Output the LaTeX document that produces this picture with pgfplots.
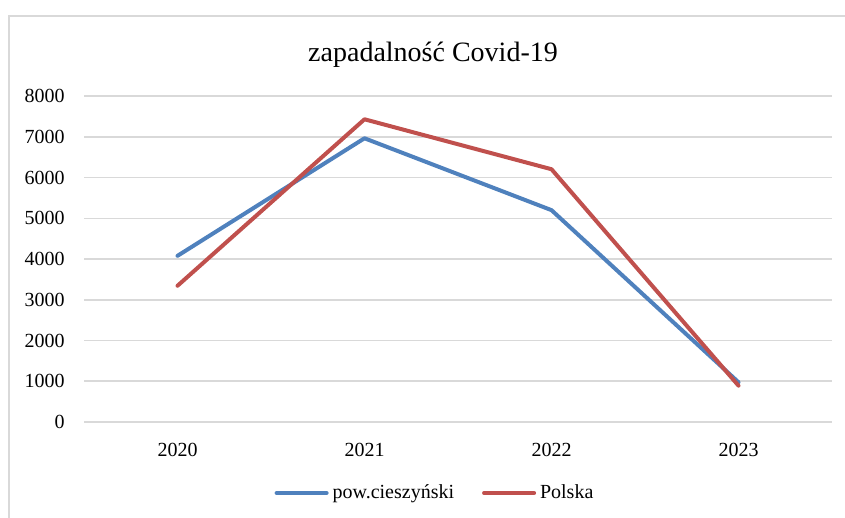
\documentclass[border=0pt]{standalone}
\usepackage{fontspec}
\setmainfont{Liberation Serif}
\usepackage{pgfplots}
\pgfplotsset{compat=1.18}

\definecolor{seriesblue}{HTML}{4F81BD}
\definecolor{seriesred}{HTML}{C0504D}
\definecolor{gridgray}{HTML}{D9D9D9}

\begin{document}
\begin{tikzpicture}
% page = 845 x 518 px, 1 px = 0.5 pt
\path[use as bounding box] (0,0) rectangle (422.5pt,259pt);
\draw[gridgray, line width=1pt] (4.25pt,0) -- (4.25pt,251pt) -- (423pt,251pt);
\node[anchor=base, font=\fontsize{14}{16}\selectfont] at (216.5pt,228pt) {zapadalność Covid-19};

\begin{axis}[
  at={(42pt,48pt)}, anchor=south west,
  scale only axis, width=374pt, height=163pt,
  xmin=-0.5, xmax=3.5, ymin=0, ymax=8000,
  xtick={0,1,2,3}, xticklabels={2020,2021,2022,2023},
  ytick={0,1000,...,8000},
  axis line style={draw=none},
  major tick length=0pt,
  ymajorgrids, grid style={gridgray, line width=0.75pt},
  tick label style={font=\fontsize{10}{12}\selectfont, inner sep=0pt},
  /pgf/number format/assume math mode=true,
  /pgf/number format/1000 sep={},
  yticklabel shift=9.5pt,
  xticklabel shift=10.5pt,
  legend columns=2,
  legend style={at={(0.4706,-0.2178)}, anchor=center, draw=none, fill=none,
    font=\fontsize{10}{12}\selectfont, inner sep=0pt,
    /tikz/every even column/.append style={column sep=12pt}},
  legend image code/.code={\draw[#1, line width=2pt, line cap=round] (0pt,0pt) -- (25pt,0pt);},
  legend cell align=left,
  clip=false,
]
\addplot[seriesblue, line width=2pt, line cap=round, line join=round, mark=none]
  coordinates {(0,4078) (1,6963) (2,5199) (3,975)};
\addlegendentry{pow.cieszyński}
\addplot[seriesred, line width=2pt, line cap=round, line join=round, mark=none]
  coordinates {(0,3343) (1,7429) (2,6203) (3,892)};
\addlegendentry{Polska}
\end{axis}
\end{tikzpicture}
\end{document}
